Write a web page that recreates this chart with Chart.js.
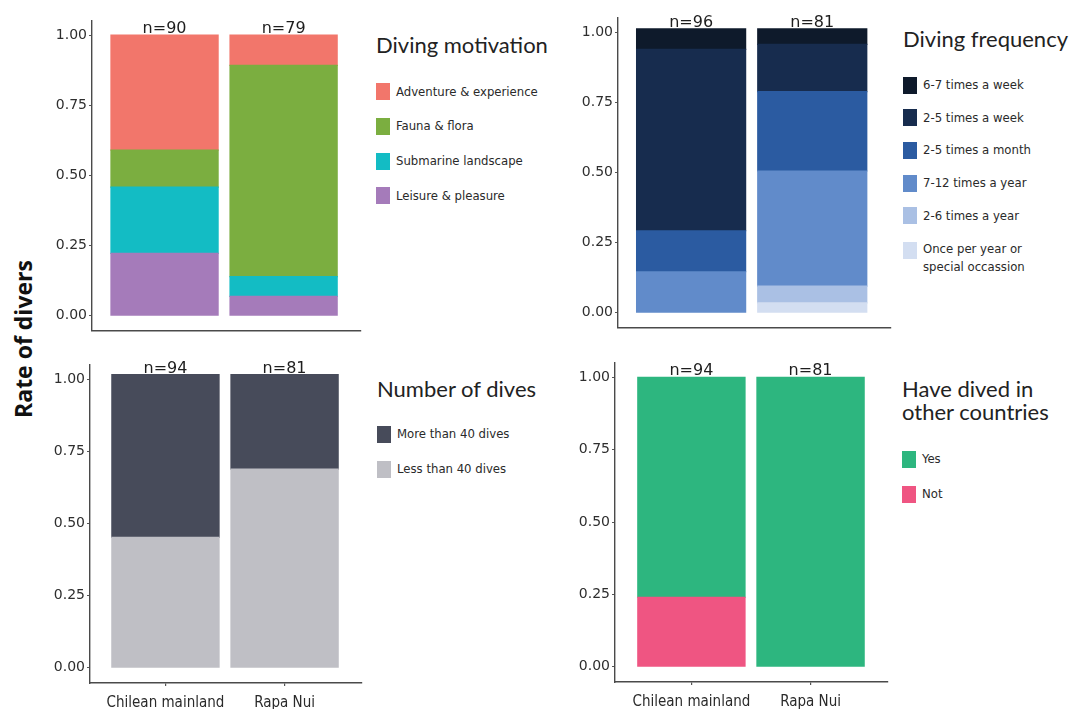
<!DOCTYPE html>
<html>
<head>
<meta charset="utf-8">
<title>Diver profiles: Chilean mainland vs Rapa Nui</title>
<script src="https://cdn.jsdelivr.net/npm/chart.js@4.4.1/dist/chart.umd.min.js"></script>
<style>
  html, body { margin: 0; padding: 0; background: #ffffff; }
  body { width: 1072px; height: 709px; position: relative; overflow: hidden; }
  canvas.panel { position: absolute; }
  .lg-title { position: absolute; font-family: "Lato", "Noto Sans", sans-serif; font-size: 22px; color: #222; white-space: nowrap; }
  .lg-key { position: absolute; width: 14px; height: 17px; }
  .lg-text { position: absolute; font-family: "DejaVu Sans Condensed", "DejaVu Sans", sans-serif; font-size: 13px; color: #2a2a2a; white-space: pre-line; line-height: 18px; }
  #ylab { position: absolute; font-family: "Open Sans", "Noto Sans", sans-serif; font-weight: 700; font-size: 23px; color: #111;
          white-space: nowrap; transform: translate(-50%, -50%) rotate(-90deg); }
</style>
</head>
<body>
<div id="ylab">Rate of divers</div>
<script>
// ---- data -------------------------------------------------------------
const regions = ['Chilean mainland', 'Rapa Nui'];
const yTickValues = [0, 0.25, 0.5, 0.75, 1];

// Diving motivation (share of divers per region)
const motivationAdventure = [0.41, 0.108];
const motivationFauna     = [0.132, 0.753];
const motivationSubmarine = [0.236, 0.07];
const motivationLeisure   = [0.222, 0.069];
const motivationN = [90, 79];

// Diving frequency
const freqWeek67  = [0.073, 0.055];
const freqWeek25  = [0.646, 0.168];
const freqMonth25 = [0.146, 0.283];
const freqYear712 = [0.146, 0.41];
const freqYear26  = [0, 0.06];
const freqOnce    = [0, 0.035];
const frequencyN = [96, 81];

// Number of dives
const divesMore = [0.565, 0.328];
const divesLess = [0.452, 0.689];
const divesN = [94, 81];

// Have dived in other countries
const abroadYes = [0.76, 1.0];
const abroadNot = [0.24, 0];
const abroadN = [94, 81];

// ---- panel definitions (series listed bottom of stack first) ----------
const panels = [
  {
    geom: { axisX: 92, zeroY: 323, oneY: 35, c1: 164.5, c2: 283.5 }, showX: false,
    n: motivationN,
    series: [
      { name: 'Leisure & pleasure',     data: motivationLeisure,   color: '#A57BBA' },
      { name: 'Submarine landscape',    data: motivationSubmarine, color: '#13BCC4' },
      { name: 'Fauna & flora',          data: motivationFauna,     color: '#7BAE40' },
      { name: 'Adventure & experience', data: motivationAdventure, color: '#F2766B' }
    ],
    legend: { title: ['Diving motivation'], left: 376, titleY: [45], itemY0: 91.5, step: 34.8 }
  },
  {
    geom: { axisX: 618, zeroY: 320.7, oneY: 32.3, c1: 691.2, c2: 812.5 }, showX: false,
    n: frequencyN,
    series: [
      { name: 'Once per year or\nspecial occassion', data: freqOnce,    color: '#D3DEF1' },
      { name: '2-6 times a year',   data: freqYear26,  color: '#AAC0E4' },
      { name: '7-12 times a year',  data: freqYear712, color: '#618BCA' },
      { name: '2-5 times a month',  data: freqMonth25, color: '#2B5BA1' },
      { name: '2-5 times a week',   data: freqWeek25,  color: '#172C4E' },
      { name: '6-7 times a week',   data: freqWeek67,  color: '#0E1A2B' }
    ],
    legend: { title: ['Diving frequency'], left: 903, titleY: [38.5], itemY0: 85, step: 32.7 }
  },
  {
    geom: { axisX: 89.5, zeroY: 667.7, oneY: 379.3, c1: 165, c2: 284.2 }, showX: true,
    n: divesN,
    series: [
      { name: 'Less than 40 dives', data: divesLess, color: '#BFBFC5' },
      { name: 'More than 40 dives', data: divesMore, color: '#474B5A' }
    ],
    legend: { title: ['Number of dives'], left: 377, titleY: [388.5], itemY0: 434.3, step: 34.7 }
  },
  {
    geom: { axisX: 614.5, zeroY: 666.7, oneY: 377.3, c1: 691, c2: 810.3 }, showX: true,
    n: abroadN,
    series: [
      { name: 'Not', data: abroadNot, color: '#EF5582' },
      { name: 'Yes', data: abroadYes, color: '#2DB67F' }
    ],
    legend: { title: ['Have dived in', 'other countries'], left: 902, titleY: [388.5, 411.7], itemY0: 459.3, step: 35 }
  }
];

// ---- drawing ----------------------------------------------------------
const Y_MIN = -0.053, Y_MAX = 1.05, X_RIGHT_PAD = 0.65;
const AXIS_W = 60, PAD_TOP = 30, PAD_RIGHT = 4;

// writes "n=.." above every stacked bar
const sampleSizePlugin = {
  id: 'sampleSize',
  afterDatasetsDraw(chart, args, opts) {
    const { ctx, scales } = chart;
    ctx.save();
    ctx.font = '16px "DejaVu Sans", sans-serif';
    ctx.fillStyle = '#1e1e1e';
    ctx.textAlign = 'center';
    ctx.textBaseline = 'alphabetic';
    opts.n.forEach((n, i) => {
      const total = chart.data.datasets.reduce((s, d) => s + d.data[i].y, 0);
      const x = scales.x.getPixelForValue(i + 1);
      const y = scales.y.getPixelForValue(total) - 2;
      ctx.fillText('n=' + n, x, y);
    });
    ctx.restore();
  }
};

function buildPanel(p) {
  const g = p.geom;
  const unitY = g.zeroY - g.oneY;
  const areaTop = g.oneY - (Y_MAX - 1) * unitY;
  const areaBottom = g.zeroY - Y_MIN * unitY;
  const unitX = g.c2 - g.c1;
  const xMin = 1 - (g.c1 - g.axisX) / unitX;
  const xMax = 2 + X_RIGHT_PAD;
  const areaRight = g.c2 + X_RIGHT_PAD * unitX;
  const xAxisH = p.showX ? 40 : 2;

  const left = Math.round(g.axisX - AXIS_W);
  const top = Math.round(areaTop - PAD_TOP);
  const width = Math.round(areaRight - g.axisX + AXIS_W + PAD_RIGHT);
  const height = Math.round(areaBottom - areaTop + PAD_TOP + xAxisH);

  const canvas = document.createElement('canvas');
  canvas.className = 'panel';
  canvas.width = width; canvas.height = height;
  canvas.style.left = left + 'px'; canvas.style.top = top + 'px';
  canvas.style.width = width + 'px'; canvas.style.height = height + 'px';
  document.body.appendChild(canvas);

  new Chart(canvas.getContext('2d'), {
    type: 'bar',
    data: {
      datasets: p.series.map(s => ({
        label: s.name.replace('\n', ' '),
        data: s.data.map((v, i) => ({ x: i + 1, y: v })),
        backgroundColor: s.color,
        borderWidth: 0,
        // slight overlap hides seams between stacked segments; empty segments stay invisible
        inflateAmount: c => (c.raw && c.raw.y > 0 ? 0.6 : 0),
        barPercentage: 0.9,
        categoryPercentage: 1
      }))
    },
    options: {
      responsive: false,
      animation: false,
      devicePixelRatio: 1,
      layout: { padding: { top: PAD_TOP, right: PAD_RIGHT, left: 0, bottom: 0 } },
      plugins: {
        legend: { display: false },
        tooltip: { enabled: false },
        sampleSize: { n: p.n }
      },
      scales: {
        x: {
          type: 'linear', stacked: true, offset: false, min: xMin, max: xMax,
          afterBuildTicks: sc => { sc.ticks = regions.map((r, i) => ({ value: i + 1 })); },
          afterFit: sc => { sc.height = xAxisH; },
          ticks: {
            display: p.showX, padding: 8, maxRotation: 0, autoSkip: false,
            color: '#2a2a2a', font: { family: '"DejaVu Sans Condensed", "DejaVu Sans", sans-serif', size: 15 },
            callback: v => regions[Math.round(v) - 1]
          },
          grid: { display: p.showX, offset: false, drawOnChartArea: false, drawTicks: true, tickLength: 3, color: '#555', lineWidth: 1.2 },
          border: { display: true, color: '#4a4a4a', width: 1.4 }
        },
        y: {
          type: 'linear', stacked: true, min: Y_MIN, max: Y_MAX,
          afterBuildTicks: sc => { sc.ticks = yTickValues.map(v => ({ value: v })); },
          afterFit: sc => { sc.width = AXIS_W; },
          ticks: {
            padding: 2, color: '#2e2e2e',
            font: { family: '"DejaVu Sans", sans-serif', size: 14 },
            callback: v => Number(v).toFixed(2)
          },
          grid: { drawOnChartArea: false, drawTicks: true, tickLength: 3, color: '#555', lineWidth: 1 },
          border: { display: true, color: '#4a4a4a', width: 1.4 }
        }
      }
    },
    plugins: [sampleSizePlugin]
  });

  // legend (top of the stack first)
  const lg = p.legend;
  lg.title.forEach((t, k) => {
    const d = document.createElement('div');
    d.className = 'lg-title';
    d.textContent = t;
    d.style.left = lg.left + 'px';
    d.style.top = (lg.titleY[k] - 14) + 'px';
    d.style.lineHeight = '28px';
    document.body.appendChild(d);
  });
  p.series.slice().reverse().forEach((s, k) => {
    const cy = lg.itemY0 + k * lg.step;
    const key = document.createElement('div');
    key.className = 'lg-key';
    key.style.background = s.color;
    key.style.left = lg.left + 'px';
    key.style.top = (cy - 8.5 + (s.name.includes('\n') ? 2 : 0)) + 'px';
    document.body.appendChild(key);
    const tx = document.createElement('div');
    tx.className = 'lg-text';
    tx.textContent = s.name;
    tx.style.left = (lg.left + 20) + 'px';
    tx.style.top = (cy - 9) + 'px';
    document.body.appendChild(tx);
  });
}

panels.forEach(buildPanel);

const ylab = document.getElementById('ylab');
ylab.style.left = '23px';
ylab.style.top = '339px';
</script>
</body>
</html>
